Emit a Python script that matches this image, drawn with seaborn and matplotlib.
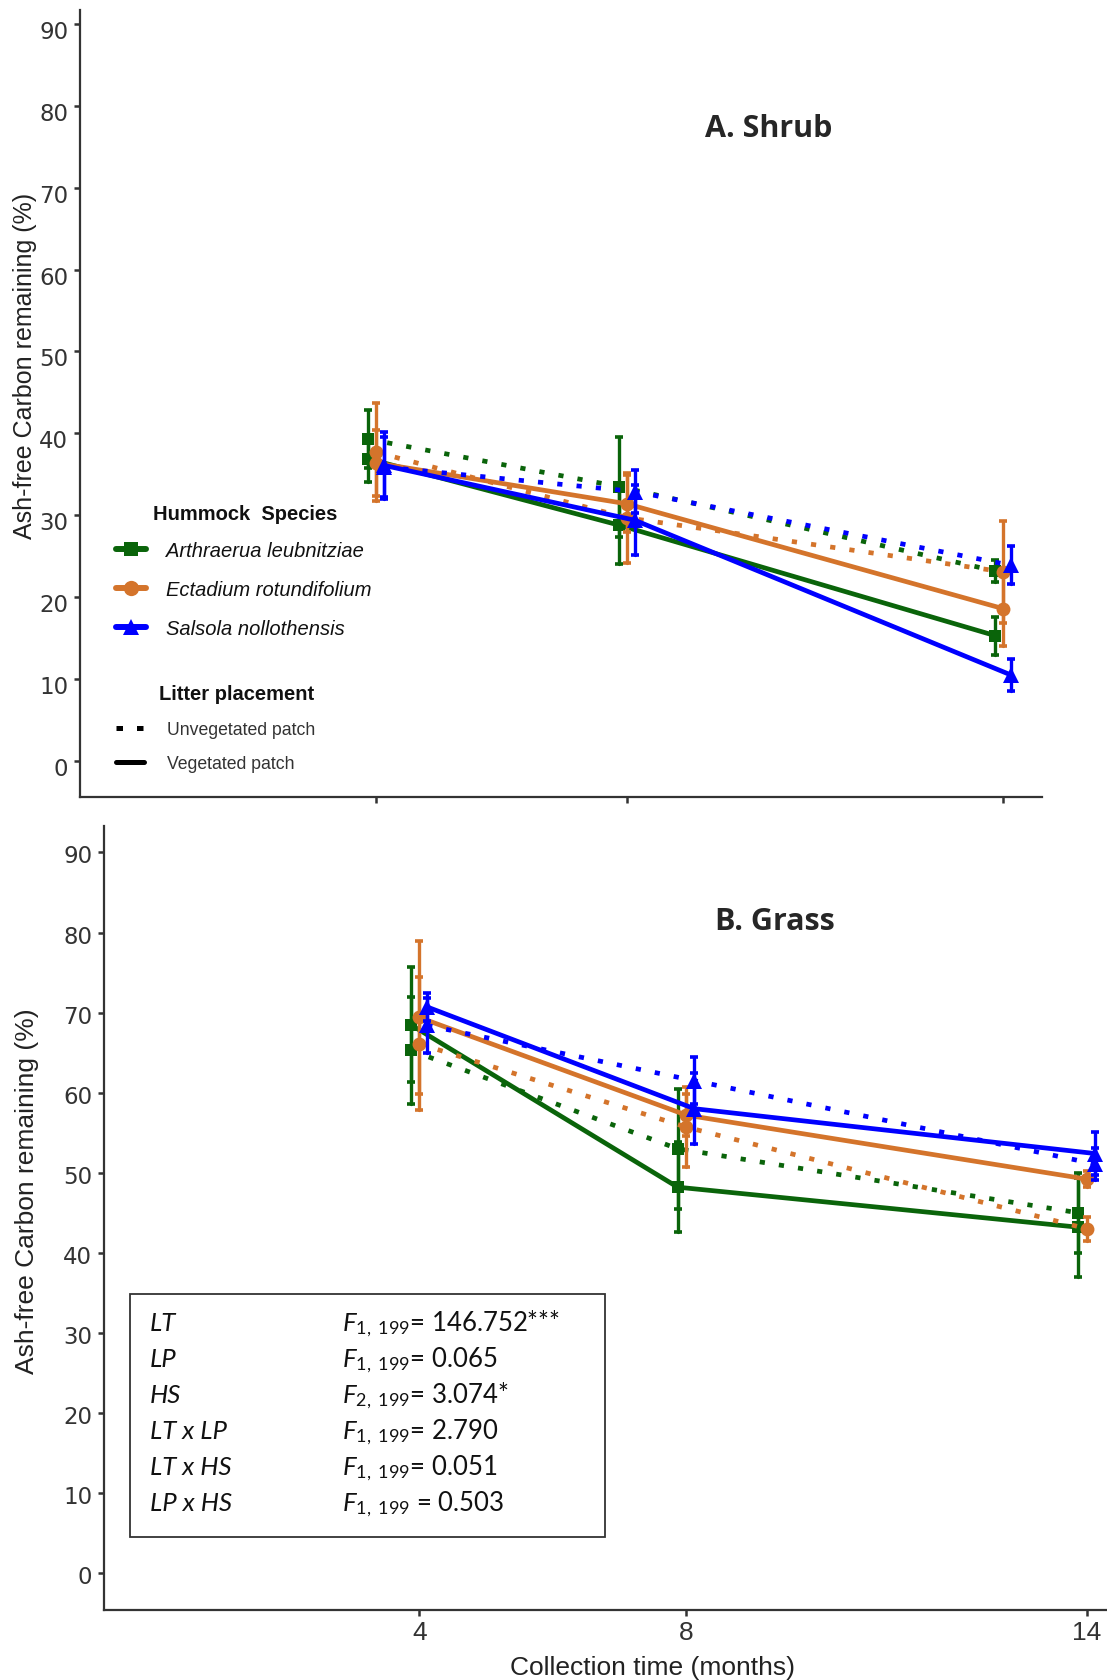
import matplotlib
matplotlib.use("Agg")
import matplotlib.pyplot as plt
from matplotlib.lines import Line2D
from matplotlib.patches import Rectangle
from matplotlib.transforms import ScaledTranslation
import numpy as np
import pandas as pd
import seaborn as sns

# ---------------------------------------------------------------- data
months = [4, 8, 14]
species = ["Arthraerua leubnitziae", "Ectadium rotundifolium", "Salsola nollothensis"]
placements = ["Unvegetated patch", "Vegetated patch"]

# A. Shrub hummocks: mean ash-free carbon remaining (%) per species (rows) and month (cols)
shrub_unveg = [[39.3, 33.5, 23.2], [37.7, 29.7, 23.1], [35.9, 32.9, 23.9]]
shrub_unveg_err = [[3.5, 6.1, 1.3], [6.0, 5.5, 6.2], [3.7, 2.6, 2.3]]
shrub_veg = [[36.9, 28.8, 15.3], [36.4, 31.4, 18.6], [36.1, 29.4, 10.5]]
shrub_veg_err = [[2.8, 4.7, 2.3], [4.0, 3.5, 4.6], [4.1, 4.3, 1.9]]

# B. Grass hummocks
grass_unveg = [[65.3, 53.0, 45.0], [66.1, 55.7, 43.0], [68.4, 61.5, 51.1]]
grass_unveg_err = [[6.7, 7.5, 5.0], [8.3, 5.0, 1.5], [3.4, 2.9, 2.0]]
grass_veg = [[68.5, 48.2, 43.2], [69.4, 57.2, 49.2], [70.7, 58.0, 52.4]]
grass_veg_err = [[7.2, 5.6, 6.2], [9.6, 2.6, 1.0], [1.8, 4.4, 2.7]]

# ANOVA summary
stat_terms = ["LT", "LP", "HS", "LT x LP", "LT x HS", "LP x HS"]
stat_df = ["1,\\ 199", "1,\\ 199", "2,\\ 199", "1,\\ 199", "1,\\ 199", "1,\\ 199"]
stat_values = ["= 146.752***", "= 0.065", "= 3.074*", "= 2.790", "= 0.051", " = 0.503"]

y_ticks = list(range(0, 91, 10))

# ---------------------------------------------------------------- style
sns.set_theme(style="ticks")
plt.rcParams["font.family"] = ["Liberation Sans", "DejaVu Sans"]
plt.rcParams["mathtext.fontset"] = "custom"
plt.rcParams["mathtext.it"] = "Lato:italic"
plt.rcParams["mathtext.rm"] = "Lato"

colors = {species[0]: "#0a640a", species[1]: "#d4742b", species[2]: "#0000ff"}
markers = {species[0]: "s", species[1]: "o", species[2]: "^"}
msizes = {species[0]: 9, species[1]: 10, species[2]: 11}
axis_col = "#333333"

W, H = 1107, 1681
fig = plt.figure(figsize=(W / 100, H / 100), dpi=100)


def px(x, y):
    """pixel position -> figure fraction"""
    return x / W, 1 - y / H


def frame(unveg, unveg_err, veg, veg_err, shift):
    rows = []
    for i, sp in enumerate(species):
        for pl, mean, err in ((placements[0], unveg, unveg_err),
                              (placements[1], veg, veg_err)):
            for j, m in enumerate(months):
                for sign in (-1, 1):
                    rows.append({"species": sp, "placement": pl,
                                 "x": m + shift[i],
                                 "value": mean[i][j] + sign * err[i][j]})
    return pd.DataFrame(rows)


def draw(ax, df):
    for sp in species:
        sub = df[df["species"] == sp]
        sns.lineplot(data=sub, x="x", y="value", style="placement",
                     style_order=placements,
                     markers={p: markers[sp] for p in placements},
                     dashes={placements[0]: (1.1, 3.0), placements[1]: ""},
                     color=colors[sp], estimator="mean", errorbar=("pi", 100),
                     err_style="bars",
                     err_kws=dict(capsize=2.8, elinewidth=2.4, capthick=2.6),
                     linewidth=3.4, markersize=msizes[sp], markeredgewidth=0,
                     legend=False, ax=ax)


def style_axes(ax, xlim, ylim, show_x, label_drop):
    ax.set_xlim(*xlim)
    ax.set_ylim(*ylim)
    ax.set_xticks(months)
    ax.set_yticks(y_ticks, labels=[str(v) for v in y_ticks])
    ax.set_xlabel("")
    ax.set_ylabel("")
    sns.despine(ax=ax)
    for s in ("left", "bottom"):
        ax.spines[s].set_linewidth(1.6)
        ax.spines[s].set_color(axis_col)
    ax.tick_params(axis="both", which="major", direction="out", length=4.5,
                   width=1.8, color=axis_col, labelcolor=axis_col,
                   bottom=True, left=True)
    ax.tick_params(axis="y", pad=4, labelsize=16.5,
                   labelfontfamily="DejaVu Sans")
    shift = ScaledTranslation(0, -label_drop / 100, fig.dpi_scale_trans)
    for t in ax.get_yticklabels():
        t.set_transform(t.get_transform() + shift)
    if show_x:
        ax.set_xticks(months, labels=[str(m) for m in months])
        ax.tick_params(axis="x", pad=3, labelsize=19,
                       labelfontfamily="Liberation Sans")
    else:
        ax.tick_params(axis="x", labelbottom=False)


# ---------------------------------------------------------------- panel A
axA = fig.add_axes([80 / W, 1 - 798 / H, (1042 - 80) / W, (798 - 11) / H])
draw(axA, frame(shrub_unveg, shrub_unveg_err, shrub_veg, shrub_veg_err,
                [-0.125, 0.0, 0.125]))
style_axes(axA, (-0.72, 14.62), (-4.4, 91.7), False, 5)

# ---------------------------------------------------------------- panel B
axB = fig.add_axes([104 / W, 1 - 1611 / H, (1107 - 104) / W, (1611 - 827) / H])
draw(axB, frame(grass_unveg, grass_unveg_err, grass_veg, grass_veg_err,
                [-0.13, 0.0, 0.12]))
style_axes(axB, (-0.72, 14.3), (-4.6, 93.3), True, 1)

# ---------------------------------------------------------------- titles & labels
ylab = "Ash-free Carbon remaining (%)"
fig.text(*px(25, 366), ylab, rotation=90, ha="center", va="center",
         fontsize=18, color="#222222")
fig.text(*px(27, 1191), ylab, rotation=90, ha="center", va="center",
         fontsize=19, color="#222222")
fig.text(*px(653, 1668), "Collection time (months)", ha="center", va="center",
         fontsize=19, color="#222222")

fig.text(*px(769, 129), "A. Shrub", ha="center", va="center", fontsize=22,
         fontweight="bold", family=["Open Sans", "DejaVu Sans"])
fig.text(*px(775, 922), "B. Grass", ha="center", va="center", fontsize=22,
         fontweight="bold", family=["Open Sans", "DejaVu Sans"])

# ---------------------------------------------------------------- legends
fig.text(*px(153, 514), "Hummock  Species", ha="left", va="center",
         fontsize=14.5, fontweight="bold", color="#111111")
sp_handles = [Line2D([], [], color=colors[s], marker=markers[s], lw=4.3,
                     ms=msizes[s] + 1, mew=0) for s in species]
leg1 = axA.legend(sp_handles, species,
                  loc="upper left", bbox_to_anchor=px(116, 542),
                  bbox_transform=fig.transFigure, frameon=False,
                  prop=dict(family="Liberation Sans", style="italic", size=14.5),
                  handlelength=1.5, handletextpad=1.0, labelspacing=1.0,
                  borderpad=0, borderaxespad=0)
for t in leg1.get_texts():
    t.set_color("#111111")
axA.add_artist(leg1)

fig.text(*px(159, 694), "Litter placement", ha="left", va="center",
         fontsize=14.5, fontweight="bold", color="#111111")
lp_handles = [Line2D([], [], color="black", lw=3.6, dashes=(1.3, 2.8)),
              Line2D([], [], color="black", lw=3.6)]
leg2 = axA.legend(lp_handles, placements,
                  loc="upper left", bbox_to_anchor=px(116, 722),
                  bbox_transform=fig.transFigure, frameon=False,
                  prop=dict(family="Liberation Sans", size=12.7),
                  handlelength=1.6, handletextpad=1.3, labelspacing=0.98,
                  borderpad=0, borderaxespad=0)
for t in leg2.get_texts():
    t.set_color("#333333")

# ---------------------------------------------------------------- ANOVA box
x0, y0 = px(130, 1538)
x1, y1 = px(605, 1295)
fig.add_artist(Rectangle((x0, y0), x1 - x0, y1 - y0, transform=fig.transFigure,
                         fill=False, ec="#333333", lw=1.3))
for i, (term, dfs, val) in enumerate(zip(stat_terms, stat_df, stat_values)):
    yy = 1324 + 36 * i
    fig.text(*px(150, yy), term, ha="left", va="center", fontsize=18.5,
             style="italic", family=["Lato", "DejaVu Sans"], color="#111111")
    fig.text(*px(342, yy), r"$\mathit{F}_{\mathit{" + dfs + "}}$" + val,
             ha="left", va="center", fontsize=18.5,
             family=["Lato", "DejaVu Sans"], color="#111111")

fig.savefig("out.png", dpi=100)
